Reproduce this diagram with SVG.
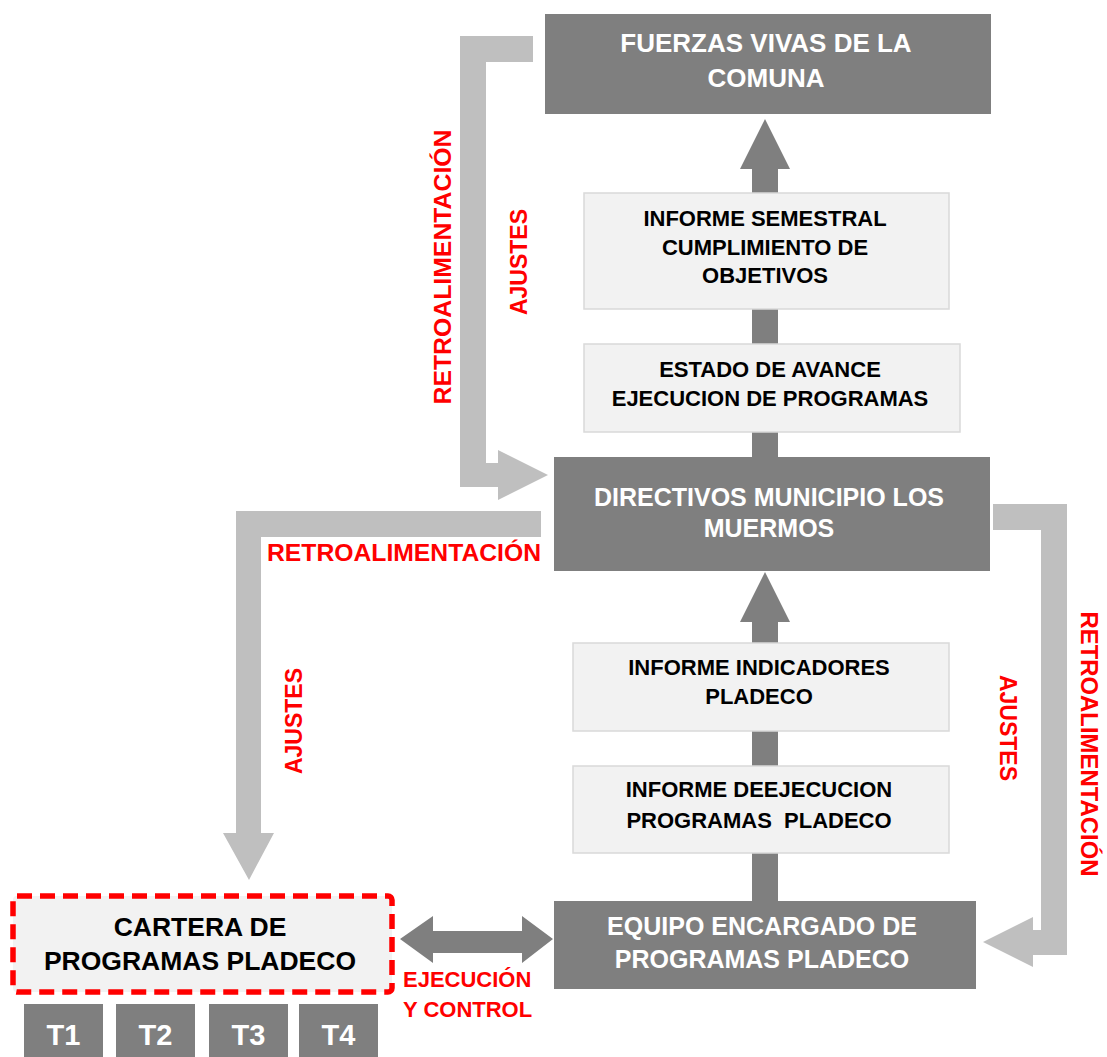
<svg xmlns="http://www.w3.org/2000/svg" width="1107" height="1057" viewBox="0 0 1107 1057">
<style>
text{font-family:"Liberation Sans",Arial,sans-serif;font-weight:bold;text-anchor:middle}
.dk{fill:#7f7f7f}
.lt{fill:#f2f2f2;stroke:#d9d9d9;stroke-width:1.5}
.wt{fill:#ffffff;font-size:25px}
.bt{fill:#000000;font-size:22px}
.rd{fill:#ff0000;font-size:23px}
.fb{fill:#bfbfbf}
</style>
<rect width="1107" height="1057" fill="#ffffff"/>
<g id="connectors">
<path class="dk" d="M752,457 V169 H740 L765,119 L790,169 H778 V457 Z"/>
<path class="dk" d="M752,901 V622 H740 L765,572 L790,622 H778 V901 Z"/>
<path class="fb" d="M533,36 H460 V487 H498 V500 L548,475 L498,450 V463 H486 V62 H533 Z"/>
<path class="fb" d="M541,511 H236 V833 H223 L249,880 L274,833 H261 V537 H541 Z"/>
<path class="fb" d="M993,504 H1067 V955 H1033 V967 L983,942 L1033,917 V930 H1041 V530 H993 Z"/>
<path class="dk" d="M400,939 L433,916 V931 H522 V916 L553,939 L522,963 V953 H433 V963 Z"/>
<text class="rd" transform="translate(451,267) rotate(-90)" textLength="275" lengthAdjust="spacingAndGlyphs">RETROALIMENTACIÓN</text>
<text class="rd" transform="translate(527,262) rotate(-90)">AJUSTES</text>
<text class="rd" x="404" y="561" textLength="274" lengthAdjust="spacingAndGlyphs">RETROALIMENTACIÓN</text>
<text class="rd" transform="translate(302,721) rotate(-90)">AJUSTES</text>
<text class="rd" transform="translate(1081,744) rotate(90)" textLength="265" lengthAdjust="spacingAndGlyphs">RETROALIMENTACIÓN</text>
<text class="rd" transform="translate(1000,728) rotate(90)">AJUSTES</text>
<text class="rd" x="403" y="987" style="text-anchor:start;font-size:22px">EJECUCIÓN</text>
<text class="rd" x="403" y="1017" style="text-anchor:start;font-size:22px">Y CONTROL</text>
</g>
<g id="fuerzas">
<rect class="dk" x="545" y="14" width="446" height="100"/>
<text class="wt" x="766" y="52" style="font-size:26px">FUERZAS VIVAS DE LA</text>
<text class="wt" x="766" y="87" style="font-size:26px">COMUNA</text>
</g>
<g id="informe-semestral">
<rect class="lt" x="584" y="193" width="365" height="116"/>
<text class="bt" x="765" y="226">INFORME SEMESTRAL</text>
<text class="bt" x="765" y="255">CUMPLIMIENTO DE</text>
<text class="bt" x="765" y="283">OBJETIVOS</text>
</g>
<g id="estado-avance">
<rect class="lt" x="584" y="344" width="376" height="88"/>
<text class="bt" x="770" y="377">ESTADO DE AVANCE</text>
<text class="bt" x="770" y="406">EJECUCION DE PROGRAMAS</text>
</g>
<g id="directivos">
<rect class="dk" x="554" y="457" width="436" height="114"/>
<text class="wt" x="769" y="506">DIRECTIVOS MUNICIPIO LOS</text>
<text class="wt" x="769" y="537">MUERMOS</text>
</g>
<g id="informe-indicadores">
<rect class="lt" x="573" y="643" width="376" height="88"/>
<text class="bt" x="759" y="675">INFORME INDICADORES</text>
<text class="bt" x="759" y="704">PLADECO</text>
</g>
<g id="informe-ejecucion">
<rect class="lt" x="573" y="766" width="376" height="87"/>
<text class="bt" x="759" y="797">INFORME DEEJECUCION</text>
<text class="bt" x="759" y="828" style="white-space:pre">PROGRAMAS  PLADECO</text>
</g>
<g id="equipo">
<rect class="dk" x="554" y="901" width="422" height="88"/>
<text class="wt" x="762" y="935">EQUIPO ENCARGADO DE</text>
<text class="wt" x="762" y="968">PROGRAMAS PLADECO</text>
</g>
<g id="cartera">
<rect x="13" y="896" width="379" height="96" rx="4" fill="#f2f2f2" stroke="#ff0000" stroke-width="5.5" stroke-dasharray="15 8"/>
<text class="bt" x="200" y="936" style="font-size:26.5px">CARTERA DE</text>
<text class="bt" x="200" y="970" style="font-size:26.5px">PROGRAMAS PLADECO</text>
</g>
<g id="t1"><rect class="dk" x="24" y="1004" width="79" height="53"/><text class="wt" x="63.5" y="1045" style="font-size:29px">T1</text></g>
<g id="t2"><rect class="dk" x="116" y="1004" width="79" height="53"/><text class="wt" x="155.5" y="1045" style="font-size:29px">T2</text></g>
<g id="t3"><rect class="dk" x="209" y="1004" width="79" height="53"/><text class="wt" x="248.5" y="1045" style="font-size:29px">T3</text></g>
<g id="t4"><rect class="dk" x="299" y="1004" width="79" height="53"/><text class="wt" x="338.5" y="1045" style="font-size:29px">T4</text></g>
</svg>
